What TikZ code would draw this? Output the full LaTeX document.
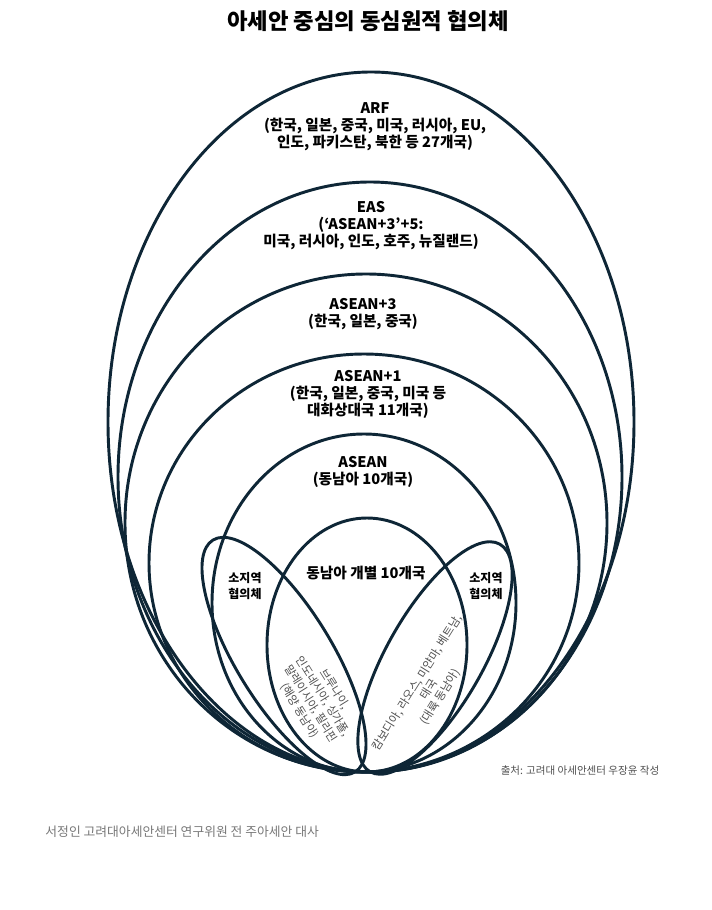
\documentclass[tikz,border=0pt]{standalone}
\usepackage{fontspec}
\setmainfont{Noto Sans CJK KR}
\definecolor{ringnavy}{RGB}{14,38,54}
\definecolor{notegray}{RGB}{80,80,80}
\definecolor{capgray}{RGB}{120,120,120}
\tikzset{every picture/.style={line width=2.2pt}}
\tikzset{ring/.style={draw=ringnavy}, lbl/.style={inner sep=0.75pt, align=center, font=\bfseries\fontsize{11}{12.75}\selectfont}}

\begin{document}
\begin{tikzpicture}[x=0.75pt,y=0.75pt,yscale=-1,xscale=1]
\useasboundingbox (0,0) rectangle (711,910);
\fill[white] (0,0) rectangle (711,910);

%Shape: Ellipse ARF
\draw [ring] (371,422) ellipse [x radius=263, y radius=350];
%Shape: Ellipse EAS
\draw [ring] (370,477) ellipse [x radius=252, y radius=295];
%Shape: Ellipse ASEAN+3
\draw [ring] (366,523) ellipse [x radius=241, y radius=249];
%Shape: Ellipse ASEAN+1
\draw [ring] (364,563) ellipse [x radius=215, y radius=209];
%Shape: Ellipse ASEAN
\draw [ring] (364,603) ellipse [x radius=152, y radius=169];
%Shape: Ellipse members
\draw [ring] (367,645) ellipse [x radius=100, y radius=127];
%Shape: Ellipse maritime
\draw [ring, rotate around={58.5:(284,656)}] (284,656) ellipse [x radius=136, y radius=48];
%Shape: Ellipse mainland
\draw [ring, rotate around={119.7:(435,658)}] (435,658) ellipse [x radius=131, y radius=48];

% Text Node
\node (title) at (368,21) [inner sep=0.75pt, font=\bfseries\fontsize{16.7}{20}\selectfont] {아세안 중심의 동심원적 협의체};
% Text Node
\node (arf) at (375,127) [lbl] {ARF\\(한국, 일본, 중국, 미국, 러시아, EU,\\인도, 파키스탄, 북한 등 27개국)};
% Text Node
\node (eas) at (371,226) [lbl] {EAS\\(‘ASEAN+3’+5:\\미국, 러시아, 인도, 호주, 뉴질랜드)};
% Text Node
\node (apt) at (363,314) [lbl] {ASEAN+3\\(한국, 일본, 중국)};
% Text Node
\node (apo) at (368,394) [lbl] {ASEAN+1\\(한국, 일본, 중국, 미국 등\\대화상대국 11개국)};
% Text Node
\node (asean) at (363,472) [lbl] {ASEAN\\(동남아 10개국)};
% Text Node
\node (members) at (366,573) [lbl] {동남아 개별 10개국};
% Text Node
\node (subl) at (245,586) [lbl, font=\bfseries\fontsize{9}{12}\selectfont] {소지역\\협의체};
% Text Node
\node (subr) at (486,586) [lbl, font=\bfseries\fontsize{9}{12}\selectfont] {소지역\\협의체};
% Text Node
\node (sea) at (317,700) [inner sep=0.75pt, align=center, rotate=-58, text=notegray, font=\fontsize{8.4}{10.4}\selectfont] {브루나이,\\인도네시아, 싱가폴,\\말레이시아, 필리핀\\(해양 동남아)};
% Text Node
\node (land) at (429,690) [inner sep=0.75pt, align=center, rotate=58, text=notegray, font=\fontsize{8.6}{10.2}\selectfont] {캄보디아, 라오스, 미얀마, 베트남,\\태국\\(대륙 동남아)};
% Text Node
\node (src) at (580,771) [inner sep=0.75pt, text=notegray, font=\fontsize{7.9}{9}\selectfont] {출처: 고려대 아세안센터 우장윤 작성};
% Text Node
\node (cap) at (43,832) [anchor=west, inner sep=0.75pt, text=capgray, font=\fontsize{9.6}{11}\selectfont] {서정인 고려대아세안센터 연구위원 전 주아세안 대사};

\end{tikzpicture}
\end{document}
